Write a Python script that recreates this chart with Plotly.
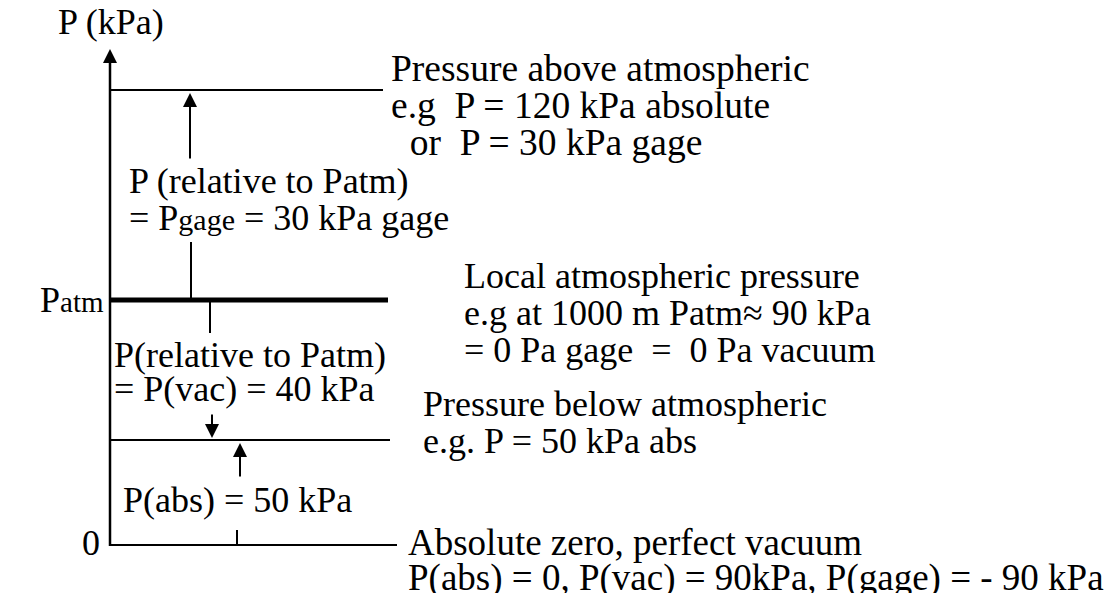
import plotly.graph_objects as go

# ---- data (schematic pressure levels, kPa) ----
level_names = ["zero", "below", "atm", "above"]
level_kpa = [0, 50, 90, 120]
axis_title = "P (kPa)"
axis_tick_labels = ["0", "P<span style='font-size:29px'>atm</span>"]

text_above = ["Pressure above atmospheric",
              "e.g&nbsp; P = 120 kPa absolute",
              "&nbsp;&nbsp;or&nbsp; P = 30 kPa gage"]
text_gage = ["P (relative to Patm)",
             "= P<span style='font-size:30px'>gage</span> = 30 kPa gage"]
text_atm = ["Local atmospheric pressure",
            "e.g at 1000 m Patm≈ 90 kPa",
            "= 0 Pa gage&nbsp; = &nbsp;0 Pa vacuum"]
text_vac = ["P(relative to Patm)",
            "= P(vac) = 40 kPa"]
text_below = ["Pressure below atmospheric",
              "e.g. P = 50 kPa abs"]
text_abs = ["P(abs) = 50 kPa"]
text_zero = ["Absolute zero, perfect vacuum",
             "P(abs) = 0, P(vac) = 90kPa, P(gage) = - 90 kPa"]

# ---- schematic layout (diagram is not to scale) ----
W, H = 1116, 593
level_y = {"zero": 545, "below": 440, "atm": 300, "above": 90}
level_x_end = {"zero": 397, "below": 390, "atm": 388, "above": 383}
level_w = {"zero": 2, "below": 2, "atm": 5, "above": 2}
AX = 110
FONT = "Liberation Serif, Times New Roman, serif"
FS = 36

fig = go.Figure()
shapes = []
annotations = []

# vertical axis
shapes.append(dict(type="line", x0=AX, x1=AX, y0=level_y["zero"] + 1, y1=60,
                   line=dict(color="black", width=2.5)))
annotations.append(dict(x=AX, y=49, ax=AX, ay=80, xref="x", yref="y", axref="x", ayref="y",
                        text="", showarrow=True, arrowhead=2, arrowsize=1.4, arrowwidth=2,
                        arrowcolor="black"))

# level lines
for name in level_names:
    y = level_y[name]
    shapes.append(dict(type="line", x0=AX, x1=level_x_end[name], y0=y, y1=y,
                       line=dict(color="black", width=level_w[name])))

def arrow(x, y_tip, y_tail):
    annotations.append(dict(x=x, y=y_tip, ax=x, ay=y_tail, xref="x", yref="y",
                            axref="x", ayref="y", text="", showarrow=True,
                            arrowhead=2, arrowsize=1.4, arrowwidth=2, arrowcolor="black"))

def seg(x, y0, y1):
    shapes.append(dict(type="line", x0=x, x1=x, y0=y0, y1=y1,
                       line=dict(color="black", width=2)))

arrow(190, level_y["above"] + 3, 160)
seg(191, 242, level_y["atm"])
seg(210, level_y["atm"], 333)
arrow(212, level_y["below"] - 2, 413)
arrow(240, level_y["below"] + 3, 478)
seg(237, 530, level_y["zero"])

def txt(x, y, s, size=FS):
    annotations.append(dict(x=x, y=y, xref="x", yref="y", text=s, showarrow=False,
                            xanchor="left", yanchor="middle",
                            font=dict(family=FONT, size=size, color="black")))

def block(x, y0, lines, step=37, size=FS):
    for i, s in enumerate(lines):
        txt(x, y0 + i * step, s, size)

txt(56, 22, axis_title)
txt(38, 300, axis_tick_labels[1])
txt(80, 543, axis_tick_labels[0])
block(389, 68, text_above, size=37.5)
block(127, 181, text_gage)
block(462, 276, text_atm)
block(112, 355, text_vac, step=34)
block(421, 404, text_below)
txt(121, 500, text_abs[0])
block(406, 542, text_zero, step=36, size=37)

fig.update_layout(
    width=W, height=H, margin=dict(l=0, r=0, t=0, b=0),
    paper_bgcolor="white", plot_bgcolor="white",
    xaxis=dict(range=[0, W], visible=False, fixedrange=True),
    yaxis=dict(range=[H, 0], visible=False, fixedrange=True),
    shapes=shapes, annotations=annotations, showlegend=False,
)
fig.write_html("out.html", config={"displayModeBar": False},
               post_script="document.body.style.margin='0';document.body.style.overflow='hidden';")
